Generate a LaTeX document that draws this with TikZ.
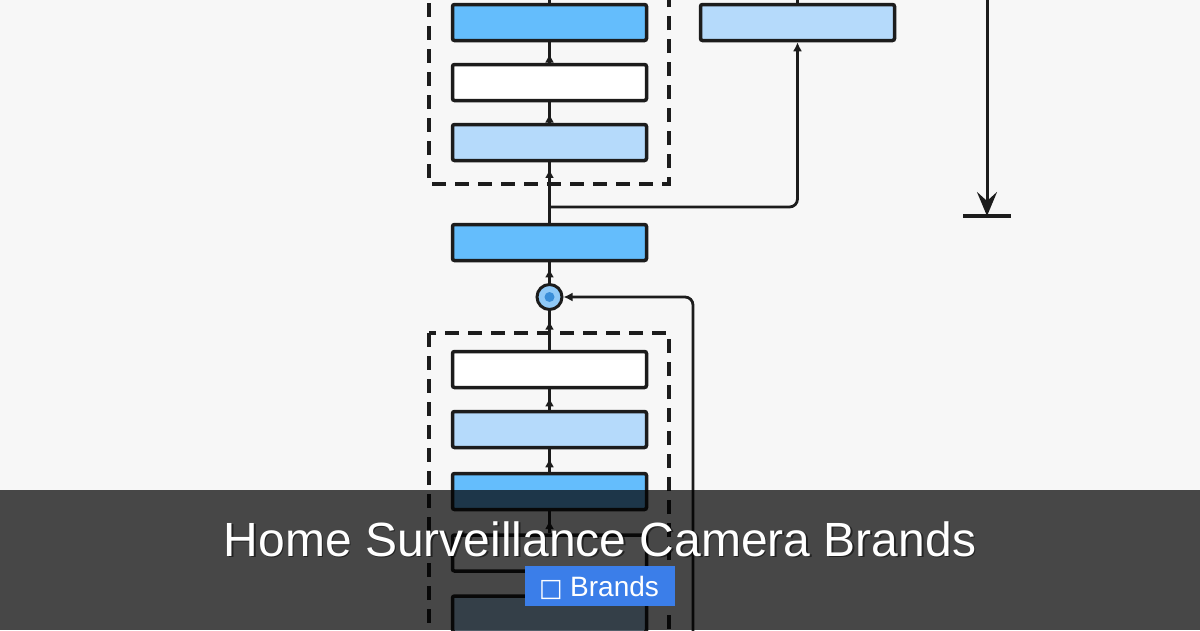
\documentclass[tikz,border=0pt]{standalone}
\usepackage{fontspec}
\setmainfont{Liberation Sans}
\newfontfamily\symfont{DejaVu Sans}
\usetikzlibrary{arrows.meta,decorations.markings}
\definecolor{bg}{HTML}{F7F7F7}
\definecolor{dblue}{HTML}{64BDFC}
\definecolor{lblue}{HTML}{B5DAFB}
\definecolor{edge}{HTML}{1C1C1C}
\definecolor{badge}{HTML}{3B7EE9}
\definecolor{cfill}{HTML}{8FC9F7}
\definecolor{cdot}{HTML}{3A8ED8}
\begin{document}
\begin{tikzpicture}[x=1pt,y=-1pt,
  blk/.style={draw=edge,line width=3.5pt,rounded corners=2pt,minimum width=194pt,minimum height=36pt,inner sep=0pt},
  dk/.style={blk,fill=dblue},
  lt/.style={blk,fill=lblue},
  wh/.style={blk,fill=white},
  grp/.style={draw=edge,line width=3.5pt,dash pattern=on 14pt off 9pt},
  con/.style={draw=edge,line width=2.8pt},
  midarr/.style={decoration={markings,mark=at position #1 with {\arrow{Latex[length=9pt,width=9pt]}}},postaction={decorate}},
  tip/.style={-{Latex[length=9pt,width=9pt]}}
]
\useasboundingbox (0,0) rectangle (1200,630);
\fill[bg] (0,0) rectangle (1200,630);

% groups
\draw[grp] (429,-20) rectangle (669,184);
\draw[grp] (429,333) rectangle (669,660);

% boxes
\node[dk] (A1) at (549.5,22.5) {};
\node[wh] (A2) at (549.5,82.5) {};
\node[lt] (A3) at (549.5,142.5) {};
\node[lt] (C)  at (797.5,22.5) {};
\node[dk] (B)  at (549.5,242.5) {};
\node[circle,draw=edge,line width=3pt,fill=cfill,minimum size=25pt,inner sep=0pt] (S) at (549.5,297) {};
\fill[cdot] (S.center) circle (5pt);
\node[wh] (D1) at (549.5,369.5) {};
\node[lt] (D2) at (549.5,429.5) {};
\node[dk] (D3) at (549.5,491.5) {};
\node[wh] (D4) at (549.5,553) {};
\node[lt] (D5) at (549.5,614) {};

% connectors
\coordinate (topA) at (549.5,-20);
\coordinate (topC) at (797.5,-20);
\coordinate (j1) at (549.5,207);
\coordinate (loopbot) at (693,660);
\draw[con] (topA) -- (A1.north);
\draw[con] (topC) -- (C.north);
\draw[con,midarr=0.45] (A2.north) -- (A1.south);
\draw[con,midarr=0.45] (A3.north) -- (A2.south);
\draw[con] (B.north) -- (j1);
\draw[con,midarr=0.85] (j1) -- (A3.south);
\draw[con,tip,rounded corners=8pt] (j1) -| (C.south);
\draw[con,midarr=0.7] (S.north) -- (B.south);
\draw[con,midarr=0.75] (D1.north) -- (S.south);
\draw[con,midarr=0.6] (D2.north) -- (D1.south);
\draw[con,midarr=0.6] (D3.north) -- (D2.south);
\draw[con,midarr=0.6] (D4.north) -- (D3.south);
\draw[con,midarr=0.6] (D5.north) -- (D4.south);
\draw[con,tip,rounded corners=8pt] (loopbot) |- (S.east);

% right arrow
\coordinate (rtop) at (987,-20);
\coordinate (rbot) at (987,216);
\coordinate (tl) at (963,216);
\coordinate (tr) at (1011,216);
\draw[edge,line width=3pt,-{Stealth[length=24pt,width=20pt,inset=9pt]}] (rtop) -- (rbot);
\draw[edge,line width=3.5pt] (tl) -- (tr);

% overlay
\fill[black,opacity=0.71] (0,490) rectangle (1200,630);
\node[anchor=base,text=black,opacity=0.5,font=\fontsize{48pt}{48pt}\selectfont,inner sep=0pt] at (601.5,557.5) {Home Surveillance Camera Brands};
\node[anchor=base,text=white,font=\fontsize{48pt}{48pt}\selectfont,inner sep=0pt] (title) at (600,556) {Home Surveillance Camera Brands};
\fill[badge] (525,566) rectangle (675,606);
\node[anchor=base west,text=white,font=\symfont\fontsize{25pt}{25pt}\selectfont,inner sep=0pt] (box) at (539,596) {□};
\node[anchor=base west,text=white,font=\fontsize{28pt}{28pt}\selectfont,inner sep=0pt] (tag) at (570,596) {Brands};
\end{tikzpicture}
\end{document}
